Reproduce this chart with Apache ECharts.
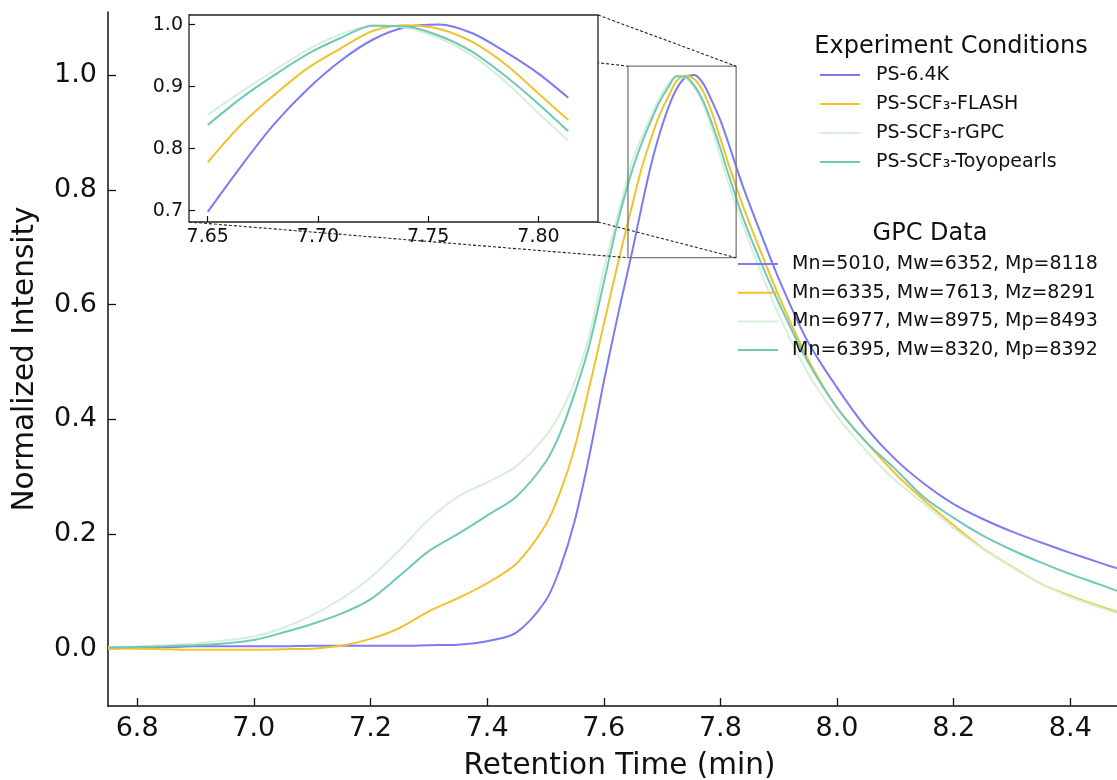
<!DOCTYPE html>
<html>
<head>
<meta charset="utf-8">
<script src="https://cdn.jsdelivr.net/npm/echarts@6/dist/echarts.min.js"></script>
<style>
html,body{margin:0;padding:0;background:#fff;}
#chart{width:1117px;height:780px;}
</style>
</head>
<body>
<div id="chart"></div>
<script>
// ---- data ----
const xs = [6.75, 6.8, 6.85, 6.9, 6.95, 7.0, 7.05, 7.1, 7.15, 7.2, 7.25, 7.3, 7.35, 7.4, 7.45, 7.5, 7.525, 7.55, 7.575, 7.6, 7.625,
  7.65, 7.665, 7.68, 7.695, 7.71, 7.725, 7.74, 7.755, 7.77, 7.785, 7.8, 7.8135,
  7.84, 7.87, 7.9, 7.95, 8.0, 8.05, 8.1, 8.15, 8.2, 8.25, 8.3, 8.35, 8.4, 8.45, 8.48];

const ps64k = [0.003, 0.003, 0.003, 0.004, 0.004, 0.004, 0.004, 0.005, 0.005, 0.005, 0.005, 0.006, 0.007, 0.013, 0.028, 0.083, 0.14, 0.222, 0.335, 0.465, 0.585,
  0.698, 0.771, 0.839, 0.895, 0.941, 0.976, 0.996, 1.0, 0.986, 0.956, 0.921, 0.882,
  0.802, 0.722, 0.645, 0.535, 0.455, 0.385, 0.33, 0.287, 0.252, 0.226, 0.204, 0.185, 0.167, 0.15, 0.14];

const flash = [0.0, 0.0, -0.001, -0.002, -0.002, -0.002, -0.001, 0.0, 0.005, 0.017, 0.036, 0.065, 0.088, 0.114, 0.148, 0.215, 0.272, 0.35, 0.455, 0.565, 0.675,
  0.778, 0.838, 0.886, 0.929, 0.961, 0.99, 0.999, 0.993, 0.972, 0.936, 0.889, 0.846,
  0.768, 0.69, 0.615, 0.505, 0.42, 0.36, 0.305, 0.258, 0.215, 0.175, 0.143, 0.113, 0.092, 0.074, 0.064];

const rgpc = [0.003, 0.004, 0.006, 0.009, 0.014, 0.021, 0.036, 0.058, 0.087, 0.124, 0.172, 0.225, 0.265, 0.29, 0.318, 0.37, 0.41, 0.465, 0.545, 0.66, 0.76,
  0.854, 0.891, 0.926, 0.959, 0.984, 0.999, 0.995, 0.978, 0.95, 0.908, 0.857, 0.813,
  0.735, 0.655, 0.582, 0.48, 0.405, 0.345, 0.293, 0.252, 0.21, 0.174, 0.142, 0.113, 0.09, 0.072, 0.062];

const toyo = [0.002, 0.003, 0.004, 0.006, 0.009, 0.015, 0.028, 0.043, 0.061, 0.086, 0.127, 0.17, 0.2, 0.232, 0.265, 0.325, 0.375, 0.445, 0.528, 0.638, 0.748,
  0.838, 0.881, 0.918, 0.952, 0.978, 0.998, 0.997, 0.982, 0.956, 0.917, 0.872, 0.828,
  0.748, 0.672, 0.603, 0.5, 0.42, 0.36, 0.313, 0.263, 0.228, 0.197, 0.172, 0.15, 0.13, 0.112, 0.101];

const seriesNames = ['PS-6.4K', 'PS-SCF\u2083-FLASH', 'PS-SCF\u2083-rGPC', 'PS-SCF\u2083-Toyopearls'];
const gpcNames = ['Mn=5010, Mw=6352, Mp=8118', 'Mn=6335, Mw=7613, Mz=8291', 'Mn=6977, Mw=8975, Mp=8493', 'Mn=6395, Mw=8320, Mp=8392'];
const colors = ['#7b7bf2', '#f2c22e', '#d6f0d6', '#6fc8b8'];

const mainXTicks = [6.8, 7.0, 7.2, 7.4, 7.6, 7.8, 8.0, 8.2, 8.4];
const mainYTicks = [0.0, 0.2, 0.4, 0.6, 0.8, 1.0];
const insetXTicks = [7.65, 7.70, 7.75, 7.80];
const insetYTicks = [0.7, 0.8, 0.9, 1.0];

const mainXRange = [6.75, 8.48];
const mainYRange = [-0.1, 1.11];
const insetDataRange = [7.65, 7.8135];
const insetXRange = [7.6415, 7.827];
const insetYRange = [0.6816, 1.0155];

// ---- build ----
const allSeries = [ps64k, flash, rgpc, toyo];
const pairs = s => xs.map((x, i) => [x, s[i]]);
const insetPairs = s => xs.map((x, i) => [x, s[i]]).filter(p => p[0] >= insetDataRange[0] - 1e-9 && p[0] <= insetDataRange[1] + 1e-9);

const FONT = 'DejaVu Sans';
const series = [];
allSeries.forEach((s, k) => {
  series.push({
    name: seriesNames[k], type: 'line', xAxisIndex: 0, yAxisIndex: 0,
    data: pairs(s), showSymbol: false, symbol: 'none', smooth: 0.3,
    lineStyle: { color: colors[k], width: 2 }, itemStyle: { color: colors[k] },
    z: 2, animation: false
  });
});
allSeries.forEach((s, k) => {
  series.push({
    name: seriesNames[k] + ' (inset)', type: 'line', xAxisIndex: 1, yAxisIndex: 1,
    data: insetPairs(s), showSymbol: false, symbol: 'none', smooth: 0.3,
    lineStyle: { color: colors[k], width: 2 }, z: 12, animation: false
  });
});
gpcNames.forEach((n, k) => {
  series.push({
    name: n, type: 'line', xAxisIndex: 0, yAxisIndex: 0, data: [],
    showSymbol: false, symbol: 'none',
    lineStyle: { color: colors[k], width: 2 }, itemStyle: { color: colors[k] }, animation: false
  });
});
// zoom indicator rectangle in main axes
series.push({
  name: 'indicator', type: 'line', xAxisIndex: 0, yAxisIndex: 0, symbol: 'none', showSymbol: false,
  data: [[insetXRange[0], insetYRange[1]], [insetXRange[1], insetYRange[1]], [insetXRange[1], insetYRange[0]],
         [insetXRange[0], insetYRange[0]], [insetXRange[0], insetYRange[1]]],
  lineStyle: { color: '#777', width: 1.3 }, z: 3, animation: false, silent: true
});

const chart = echarts.init(document.getElementById('chart'), null, { renderer: 'canvas' });
const legendText = { fontFamily: FONT, fontSize: 19, color: '#111', lineHeight: 20 };
const option = {
  animation: false,
  backgroundColor: '#fff',
  textStyle: { fontFamily: FONT },
  title: [
    { text: 'Experiment Conditions', left: 946, top: 30, textAlign: 'center',
      textStyle: { fontFamily: FONT, fontSize: 24, fontWeight: 'normal', color: '#111' } },
    { text: 'GPC Data', left: 925, top: 217, textAlign: 'center',
      textStyle: { fontFamily: FONT, fontSize: 24, fontWeight: 'normal', color: '#111' } }
  ],
  legend: [
    { data: seriesNames, orient: 'vertical', left: 820, top: 65, padding: 0, icon: 'rect',
      itemWidth: 40, itemHeight: 2, itemGap: 9,
      textStyle: Object.assign({ padding: [0, 0, 0, 11] }, legendText) },
    { data: gpcNames, orient: 'vertical', left: 738, top: 254, padding: 0, icon: 'rect',
      itemWidth: 40, itemHeight: 2, itemGap: 8.7,
      textStyle: Object.assign({ padding: [0, 0, 0, 9] }, legendText) }
  ],
  grid: [
    { left: 108, top: 12, right: 0, bottom: 74, containLabel: false, outerBoundsMode: 'none' },
    { left: 189, top: 15, width: 409, height: 207, show: true, backgroundColor: '#fff',
      borderColor: '#222', borderWidth: 1.3, z: 10, containLabel: false, outerBoundsMode: 'none' }
  ],
  xAxis: [
    { type: 'value', gridIndex: 0, min: mainXRange[0], max: mainXRange[1],
      name: 'Retention Time (min)', nameLocation: 'middle', nameGap: 45,
      nameTextStyle: { fontFamily: FONT, fontSize: 29.5, color: '#111', padding: [0, 0, 0, 14] },
      axisLine: { show: true, onZero: false, lineStyle: { color: '#111', width: 1.5 } },
      axisTick: { show: true, inside: true, length: 8, customValues: mainXTicks, lineStyle: { color: '#111', width: 1.3 } },
      axisLabel: { show: true, customValues: mainXTicks, margin: 9, fontFamily: FONT, fontSize: 27, color: '#111',
        formatter: v => v.toFixed(1) },
      splitLine: { show: false } },
    { type: 'value', gridIndex: 1, min: insetXRange[0], max: insetXRange[1], z: 11,
      axisLine: { show: false, onZero: false },
      axisTick: { show: true, inside: true, length: 6, customValues: insetXTicks, lineStyle: { color: '#111', width: 1.2 } },
      axisLabel: { show: true, customValues: insetXTicks, margin: 6, fontFamily: FONT, fontSize: 19, color: '#111',
        formatter: v => v.toFixed(2) },
      splitLine: { show: false } }
  ],
  yAxis: [
    { type: 'value', gridIndex: 0, min: mainYRange[0], max: mainYRange[1],
      name: 'Normalized Intensity', nameLocation: 'middle', nameGap: 68,
      nameTextStyle: { fontFamily: FONT, fontSize: 29.5, color: '#111' },
      axisLine: { show: true, onZero: false, lineStyle: { color: '#111', width: 1.5 } },
      axisTick: { show: true, inside: true, length: 8, customValues: mainYTicks, lineStyle: { color: '#111', width: 1.3 } },
      axisLabel: { show: true, customValues: mainYTicks, margin: 11, fontFamily: FONT, fontSize: 27, color: '#111',
        formatter: v => v.toFixed(1) },
      splitLine: { show: false } },
    { type: 'value', gridIndex: 1, min: insetYRange[0], max: insetYRange[1], z: 11,
      axisLine: { show: false, onZero: false },
      axisTick: { show: true, inside: true, length: 6, customValues: insetYTicks, lineStyle: { color: '#111', width: 1.2 } },
      axisLabel: { show: true, customValues: insetYTicks, margin: 6, fontFamily: FONT, fontSize: 19, color: '#111',
        formatter: v => v.toFixed(1) },
      splitLine: { show: false } }
  ],
  series: series
};
chart.setOption(option);

// connector lines from inset corners to the indicator rectangle corners
function conn() {
  const cornersData = [[insetXRange[0], insetYRange[1]], [insetXRange[1], insetYRange[1]],
                       [insetXRange[0], insetYRange[0]], [insetXRange[1], insetYRange[0]]];
  const els = cornersData.map(c => {
    const a = chart.convertToPixel({ xAxisIndex: 1, yAxisIndex: 1 }, c);
    const b = chart.convertToPixel({ xAxisIndex: 0, yAxisIndex: 0 }, c);
    return { type: 'line', z: 5, silent: true,
      shape: { x1: a[0], y1: a[1], x2: b[0], y2: b[1] },
      style: { stroke: '#222', lineWidth: 1.1, lineDash: [3, 2] } };
  });
  chart.setOption({ graphic: { elements: els } });
}
conn();
</script>
</body>
</html>
